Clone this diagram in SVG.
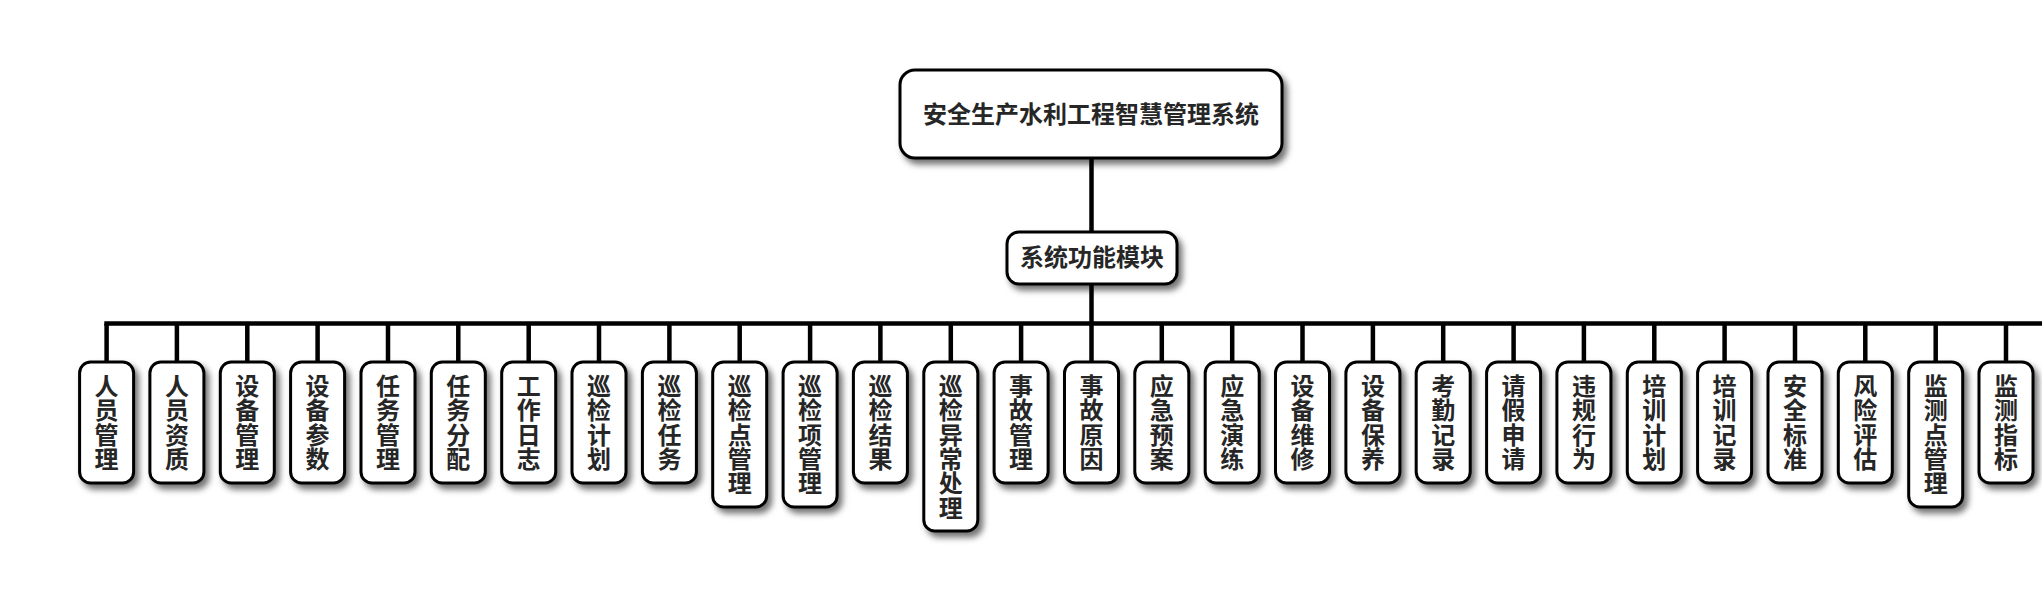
<svg xmlns="http://www.w3.org/2000/svg" width="2042" height="607" viewBox="0 0 2042 607">
<defs>
<filter id="sh" x="-30%" y="-30%" width="170%" height="170%">
<feDropShadow dx="4" dy="5" stdDeviation="3" flood-color="#000" flood-opacity="0.55"/>
</filter>
<style>
.box{fill:#fff;stroke:#000;stroke-width:3;filter:url(#sh)}
.t{font-family:"Noto Sans CJK SC","Noto Sans",sans-serif;font-weight:bold;font-size:24px;fill:#262626;text-anchor:middle}
.c{stroke:#000;stroke-width:4.5;fill:none}
</style>
</defs>
<g id="connectors">
<line class="c" x1="1091.5" y1="158" x2="1091.5" y2="232"/>
<line class="c" x1="1091.5" y1="284" x2="1091.5" y2="323.5"/>
<line class="c" x1="104.3" y1="323.5" x2="2042" y2="323.5"/>
<path class="c" d="M106.6 323.5V362M176.9 323.5V362M247.3 323.5V362M317.6 323.5V362M388 323.5V362M458.3 323.5V362M528.7 323.5V362M599 323.5V362M669.4 323.5V362M739.7 323.5V362M810.1 323.5V362M880.4 323.5V362M950.8 323.5V362M1021.1 323.5V362M1091.5 323.5V362M1161.8 323.5V362M1232.2 323.5V362M1302.5 323.5V362M1372.9 323.5V362M1443.2 323.5V362M1513.6 323.5V362M1583.9 323.5V362M1654.3 323.5V362M1724.6 323.5V362M1795 323.5V362M1865.3 323.5V362M1935.7 323.5V362M2006 323.5V362"/>
</g>
<g id="root">
<rect class="box" x="900" y="70" width="382" height="88" rx="15"/>
<text class="t" x="1091" y="123">安全生产水利工程智慧管理系统</text>
</g>
<g id="module">
<rect class="box" x="1007" y="232" width="170" height="52" rx="12"/>
<text class="t" x="1092" y="266">系统功能模块</text>
</g>
<g id="n1"><rect class="box" x="79.6" y="362" width="54" height="121" rx="11"/><text class="t"><tspan x="106.6" y="395">人</tspan><tspan x="106.6" dy="24.3">员</tspan><tspan x="106.6" dy="24.3">管</tspan><tspan x="106.6" dy="24.3">理</tspan></text></g>
<g id="n2"><rect class="box" x="149.9" y="362" width="54" height="121" rx="11"/><text class="t"><tspan x="176.9" y="395">人</tspan><tspan x="176.9" dy="24.3">员</tspan><tspan x="176.9" dy="24.3">资</tspan><tspan x="176.9" dy="24.3">质</tspan></text></g>
<g id="n3"><rect class="box" x="220.3" y="362" width="54" height="121" rx="11"/><text class="t"><tspan x="247.3" y="395">设</tspan><tspan x="247.3" dy="24.3">备</tspan><tspan x="247.3" dy="24.3">管</tspan><tspan x="247.3" dy="24.3">理</tspan></text></g>
<g id="n4"><rect class="box" x="290.6" y="362" width="54" height="121" rx="11"/><text class="t"><tspan x="317.6" y="395">设</tspan><tspan x="317.6" dy="24.3">备</tspan><tspan x="317.6" dy="24.3">参</tspan><tspan x="317.6" dy="24.3">数</tspan></text></g>
<g id="n5"><rect class="box" x="361" y="362" width="54" height="121" rx="11"/><text class="t"><tspan x="388" y="395">任</tspan><tspan x="388" dy="24.3">务</tspan><tspan x="388" dy="24.3">管</tspan><tspan x="388" dy="24.3">理</tspan></text></g>
<g id="n6"><rect class="box" x="431.3" y="362" width="54" height="121" rx="11"/><text class="t"><tspan x="458.3" y="395">任</tspan><tspan x="458.3" dy="24.3">务</tspan><tspan x="458.3" dy="24.3">分</tspan><tspan x="458.3" dy="24.3">配</tspan></text></g>
<g id="n7"><rect class="box" x="501.7" y="362" width="54" height="121" rx="11"/><text class="t"><tspan x="528.7" y="395">工</tspan><tspan x="528.7" dy="24.3">作</tspan><tspan x="528.7" dy="24.3">日</tspan><tspan x="528.7" dy="24.3">志</tspan></text></g>
<g id="n8"><rect class="box" x="572" y="362" width="54" height="121" rx="11"/><text class="t"><tspan x="599" y="395">巡</tspan><tspan x="599" dy="24.3">检</tspan><tspan x="599" dy="24.3">计</tspan><tspan x="599" dy="24.3">划</tspan></text></g>
<g id="n9"><rect class="box" x="642.4" y="362" width="54" height="121" rx="11"/><text class="t"><tspan x="669.4" y="395">巡</tspan><tspan x="669.4" dy="24.3">检</tspan><tspan x="669.4" dy="24.3">任</tspan><tspan x="669.4" dy="24.3">务</tspan></text></g>
<g id="n10"><rect class="box" x="712.7" y="362" width="54" height="145" rx="11"/><text class="t"><tspan x="739.7" y="395">巡</tspan><tspan x="739.7" dy="24.3">检</tspan><tspan x="739.7" dy="24.3">点</tspan><tspan x="739.7" dy="24.3">管</tspan><tspan x="739.7" dy="24.3">理</tspan></text></g>
<g id="n11"><rect class="box" x="783.1" y="362" width="54" height="145" rx="11"/><text class="t"><tspan x="810.1" y="395">巡</tspan><tspan x="810.1" dy="24.3">检</tspan><tspan x="810.1" dy="24.3">项</tspan><tspan x="810.1" dy="24.3">管</tspan><tspan x="810.1" dy="24.3">理</tspan></text></g>
<g id="n12"><rect class="box" x="853.4" y="362" width="54" height="121" rx="11"/><text class="t"><tspan x="880.4" y="395">巡</tspan><tspan x="880.4" dy="24.3">检</tspan><tspan x="880.4" dy="24.3">结</tspan><tspan x="880.4" dy="24.3">果</tspan></text></g>
<g id="n13"><rect class="box" x="923.8" y="362" width="54" height="169" rx="11"/><text class="t"><tspan x="950.8" y="395">巡</tspan><tspan x="950.8" dy="24.3">检</tspan><tspan x="950.8" dy="24.3">异</tspan><tspan x="950.8" dy="24.3">常</tspan><tspan x="950.8" dy="24.3">处</tspan><tspan x="950.8" dy="24.3">理</tspan></text></g>
<g id="n14"><rect class="box" x="994.1" y="362" width="54" height="121" rx="11"/><text class="t"><tspan x="1021.1" y="395">事</tspan><tspan x="1021.1" dy="24.3">故</tspan><tspan x="1021.1" dy="24.3">管</tspan><tspan x="1021.1" dy="24.3">理</tspan></text></g>
<g id="n15"><rect class="box" x="1064.5" y="362" width="54" height="121" rx="11"/><text class="t"><tspan x="1091.5" y="395">事</tspan><tspan x="1091.5" dy="24.3">故</tspan><tspan x="1091.5" dy="24.3">原</tspan><tspan x="1091.5" dy="24.3">因</tspan></text></g>
<g id="n16"><rect class="box" x="1134.8" y="362" width="54" height="121" rx="11"/><text class="t"><tspan x="1161.8" y="395">应</tspan><tspan x="1161.8" dy="24.3">急</tspan><tspan x="1161.8" dy="24.3">预</tspan><tspan x="1161.8" dy="24.3">案</tspan></text></g>
<g id="n17"><rect class="box" x="1205.2" y="362" width="54" height="121" rx="11"/><text class="t"><tspan x="1232.2" y="395">应</tspan><tspan x="1232.2" dy="24.3">急</tspan><tspan x="1232.2" dy="24.3">演</tspan><tspan x="1232.2" dy="24.3">练</tspan></text></g>
<g id="n18"><rect class="box" x="1275.5" y="362" width="54" height="121" rx="11"/><text class="t"><tspan x="1302.5" y="395">设</tspan><tspan x="1302.5" dy="24.3">备</tspan><tspan x="1302.5" dy="24.3">维</tspan><tspan x="1302.5" dy="24.3">修</tspan></text></g>
<g id="n19"><rect class="box" x="1345.9" y="362" width="54" height="121" rx="11"/><text class="t"><tspan x="1372.9" y="395">设</tspan><tspan x="1372.9" dy="24.3">备</tspan><tspan x="1372.9" dy="24.3">保</tspan><tspan x="1372.9" dy="24.3">养</tspan></text></g>
<g id="n20"><rect class="box" x="1416.2" y="362" width="54" height="121" rx="11"/><text class="t"><tspan x="1443.2" y="395">考</tspan><tspan x="1443.2" dy="24.3">勤</tspan><tspan x="1443.2" dy="24.3">记</tspan><tspan x="1443.2" dy="24.3">录</tspan></text></g>
<g id="n21"><rect class="box" x="1486.6" y="362" width="54" height="121" rx="11"/><text class="t"><tspan x="1513.6" y="395">请</tspan><tspan x="1513.6" dy="24.3">假</tspan><tspan x="1513.6" dy="24.3">申</tspan><tspan x="1513.6" dy="24.3">请</tspan></text></g>
<g id="n22"><rect class="box" x="1556.9" y="362" width="54" height="121" rx="11"/><text class="t"><tspan x="1583.9" y="395">违</tspan><tspan x="1583.9" dy="24.3">规</tspan><tspan x="1583.9" dy="24.3">行</tspan><tspan x="1583.9" dy="24.3">为</tspan></text></g>
<g id="n23"><rect class="box" x="1627.3" y="362" width="54" height="121" rx="11"/><text class="t"><tspan x="1654.3" y="395">培</tspan><tspan x="1654.3" dy="24.3">训</tspan><tspan x="1654.3" dy="24.3">计</tspan><tspan x="1654.3" dy="24.3">划</tspan></text></g>
<g id="n24"><rect class="box" x="1697.6" y="362" width="54" height="121" rx="11"/><text class="t"><tspan x="1724.6" y="395">培</tspan><tspan x="1724.6" dy="24.3">训</tspan><tspan x="1724.6" dy="24.3">记</tspan><tspan x="1724.6" dy="24.3">录</tspan></text></g>
<g id="n25"><rect class="box" x="1768" y="362" width="54" height="121" rx="11"/><text class="t"><tspan x="1795" y="395">安</tspan><tspan x="1795" dy="24.3">全</tspan><tspan x="1795" dy="24.3">标</tspan><tspan x="1795" dy="24.3">准</tspan></text></g>
<g id="n26"><rect class="box" x="1838.3" y="362" width="54" height="121" rx="11"/><text class="t"><tspan x="1865.3" y="395">风</tspan><tspan x="1865.3" dy="24.3">险</tspan><tspan x="1865.3" dy="24.3">评</tspan><tspan x="1865.3" dy="24.3">估</tspan></text></g>
<g id="n27"><rect class="box" x="1908.7" y="362" width="54" height="145" rx="11"/><text class="t"><tspan x="1935.7" y="395">监</tspan><tspan x="1935.7" dy="24.3">测</tspan><tspan x="1935.7" dy="24.3">点</tspan><tspan x="1935.7" dy="24.3">管</tspan><tspan x="1935.7" dy="24.3">理</tspan></text></g>
<g id="n28"><rect class="box" x="1979" y="362" width="54" height="121" rx="11"/><text class="t"><tspan x="2006" y="395">监</tspan><tspan x="2006" dy="24.3">测</tspan><tspan x="2006" dy="24.3">指</tspan><tspan x="2006" dy="24.3">标</tspan></text></g>
</svg>
